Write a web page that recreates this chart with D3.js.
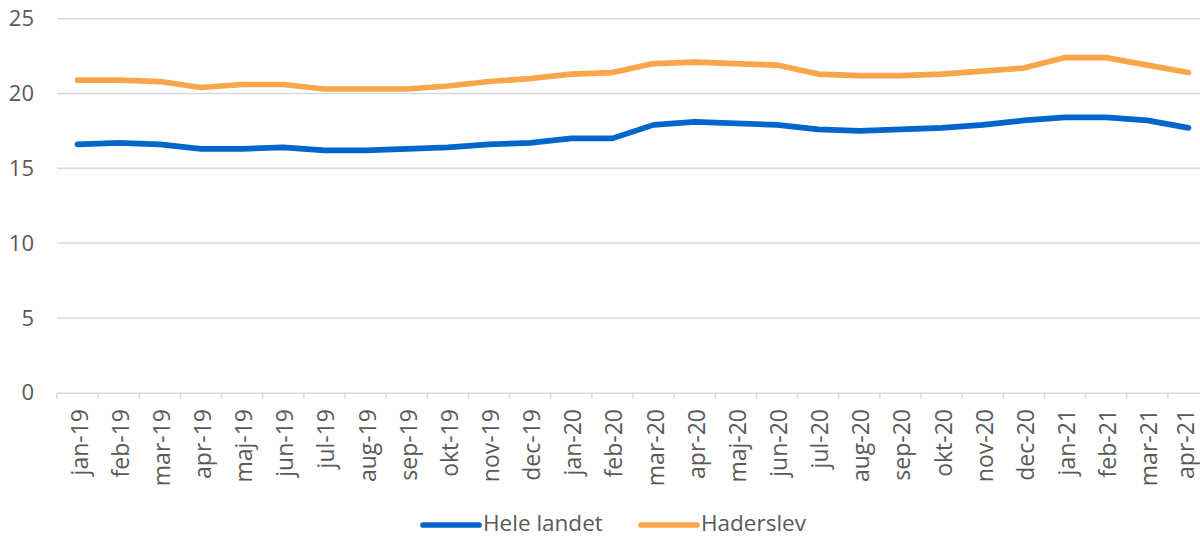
<!DOCTYPE html>
<html>
<head>
<meta charset="utf-8">
<script src="https://cdn.jsdelivr.net/npm/d3@7"></script>
<style>
  html, body { margin: 0; padding: 0; background: #fff; }
  svg { display: block; }
  text { font-family: "Open Sans", Lato, sans-serif; fill: #595959; }
</style>
</head>
<body>
<svg id="chart" width="1200" height="538"></svg>
<script>
const months = ["jan-19","feb-19","mar-19","apr-19","maj-19","jun-19","jul-19","aug-19","sep-19","okt-19","nov-19","dec-19",
  "jan-20","feb-20","mar-20","apr-20","maj-20","jun-20","jul-20","aug-20","sep-20","okt-20","nov-20","dec-20",
  "jan-21","feb-21","mar-21","apr-21"];
const heleLandet = [16.6,16.7,16.6,16.3,16.3,16.4,16.2,16.2,16.3,16.4,16.6,16.7,
  17.0,17.0,17.9,18.1,18.0,17.9,17.6,17.5,17.6,17.7,17.9,18.2,
  18.4,18.4,18.2,17.7];
const haderslev = [20.9,20.9,20.8,20.4,20.6,20.6,20.3,20.3,20.3,20.5,20.8,21.0,
  21.3,21.4,22.0,22.1,22.0,21.9,21.3,21.2,21.2,21.3,21.5,21.7,
  22.4,22.4,21.9,21.4];
const yTicks = [0,5,10,15,20,25];
const seriesNames = ["Hele landet","Haderslev"];
const seriesColors = ["#0066CC","#F9A64A"];

const W = 1200;
const svg = d3.select("#chart");
const x = d3.scaleBand().domain(months).range([57, 1209]);
const y = d3.scaleLinear().domain([0,25]).range([392.7, 18.7]);

// gridlines
svg.append("g").selectAll("line").data(yTicks.filter(d => d > 0)).join("line")
  .attr("x1", 57).attr("x2", W)
  .attr("y1", d => y(d)).attr("y2", d => y(d))
  .attr("stroke", "#d9d9d9").attr("stroke-width", 1.5);

// y labels
svg.append("g").selectAll("text").data(yTicks).join("text")
  .attr("x", 34).attr("y", d => y(d)).attr("dy", "0.35em")
  .attr("text-anchor", "end").attr("font-size", 22)
  .text(d => d);

// x axis
const xAxis = d3.axisBottom(x).tickSize(0).tickFormat("");
const gx = svg.append("g").attr("transform", `translate(0,${y(0)})`).call(xAxis);
gx.select(".domain").attr("stroke", "#d9d9d9").attr("stroke-width", 1.5);
// tick marks at band boundaries
const bounds = months.map(m => x(m)).concat([x(months[months.length-1]) + x.bandwidth()]);
svg.append("g").selectAll("line").data(bounds).join("line")
  .attr("x1", d => d).attr("x2", d => d)
  .attr("y1", y(0)).attr("y2", y(0) + 6)
  .attr("stroke", "#d9d9d9").attr("stroke-width", 1.5);
// x labels (last one kept inside the canvas)
svg.append("g").selectAll("text").data(months).join("text")
  .attr("transform", d => `translate(${Math.min(x(d) + x.bandwidth()/2 + 2, W - 14)},409) rotate(-90)`)
  .attr("dy", "0.35em").attr("text-anchor", "end").attr("font-size", 23)
  .text(d => d);

// lines
const line = d3.line().x((d,i) => x(months[i]) + x.bandwidth()/2).y(d => y(d));
[heleLandet, haderslev].forEach((s, k) => {
  svg.append("path").datum(s).attr("d", line)
    .attr("fill", "none").attr("stroke", seriesColors[k]).attr("stroke-width", 5.7)
    .attr("stroke-linecap", "round").attr("stroke-linejoin", "round");
});

// legend
const legendX = [423, 641];
seriesNames.forEach((n, k) => {
  svg.append("line").attr("x1", legendX[k]).attr("x2", legendX[k] + 56)
    .attr("y1", 525).attr("y2", 525)
    .attr("stroke", seriesColors[k]).attr("stroke-width", 5.7).attr("stroke-linecap", "round");
  svg.append("text").attr("x", legendX[k] + 60).attr("y", 531)
    .attr("font-size", 22.5).text(n);
});
</script>
</body>
</html>
